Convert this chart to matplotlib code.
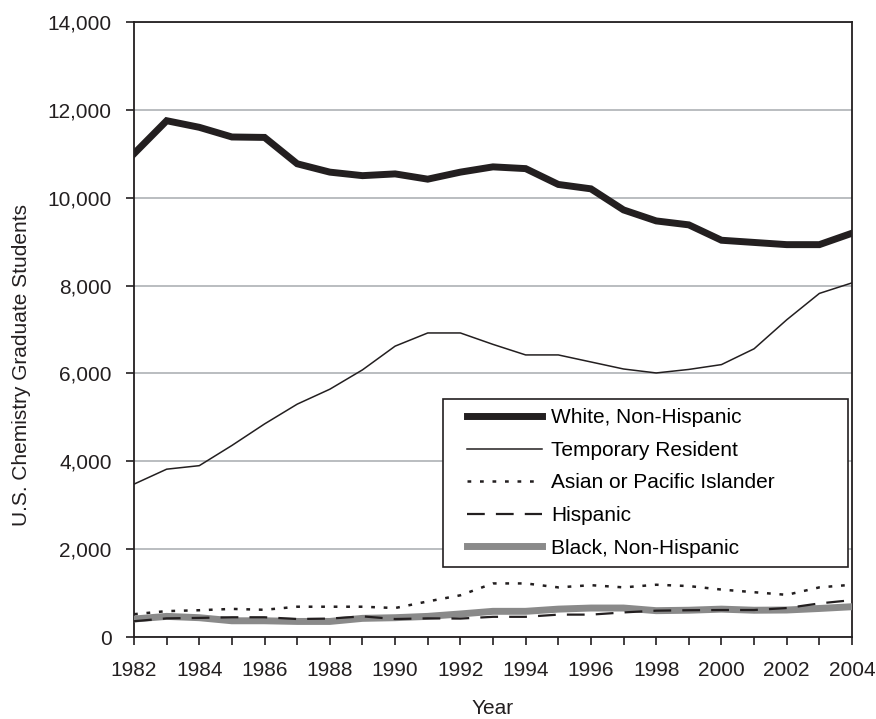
import matplotlib
matplotlib.use("Agg")
import matplotlib.pyplot as plt
from matplotlib.lines import Line2D
from matplotlib.legend_handler import HandlerLine2D
from matplotlib.ticker import FuncFormatter, MultipleLocator

plt.rcParams["font.family"] = ["Liberation Sans", "DejaVu Sans"]

years = list(range(1982, 2005))
white = [11000, 11750, 11600, 11380, 11370, 10770, 10580, 10500, 10540, 10420, 10580, 10700,
         10660, 10300, 10200, 9720, 9470, 9380, 9030, 8980, 8930, 8930, 9190]
temporary = [3480, 3820, 3900, 4360, 4850, 5300, 5640, 6080, 6620, 6920, 6920, 6660,
             6420, 6420, 6260, 6100, 6010, 6090, 6200, 6560, 7220, 7820, 8060]
asian = [520, 590, 610, 640, 620, 690, 690, 690, 660, 810, 950, 1220,
         1220, 1130, 1180, 1130, 1190, 1160, 1080, 1020, 960, 1130, 1190]
hispanic = [360, 425, 435, 450, 450, 410, 420, 470, 410, 425, 420, 460,
            460, 510, 510, 560, 600, 610, 615, 615, 660, 765, 840]
black = [410, 470, 440, 370, 370, 355, 355, 425, 440, 470, 525, 585,
         585, 635, 660, 660, 600, 610, 635, 610, 615, 650, 690]

ink = "#231f20"
fs = 15

fig = plt.figure(figsize=(8.76, 7.19), dpi=100)
ax = fig.add_axes([0.153, 0.114, 0.8196, 0.8556])

ax.plot(years, white, color=ink, lw=5, solid_joinstyle="miter", label="White, Non-Hispanic", zorder=5)
ax.plot(years, temporary, color=ink, lw=1.1, label="Temporary Resident", zorder=5)
ax.plot(years, asian, color=ink, lw=1.8, linestyle=(0, (1.5, 3.5)), label="Asian or Pacific Islander", zorder=5)
ax.plot(years, hispanic, color=ink, lw=1.6, linestyle=(0, (8, 5)), label="Hispanic", zorder=4)
ax.plot(years, black, color="#8a8a8a", lw=5, label="Black, Non-Hispanic", zorder=3)

ax.set_xlim(1982, 2004)
ax.set_ylim(0, 14000)
ax.xaxis.set_major_locator(MultipleLocator(2))
ax.xaxis.set_minor_locator(MultipleLocator(1))
ax.yaxis.set_major_locator(MultipleLocator(2000))
ax.yaxis.set_major_formatter(FuncFormatter(lambda v, p: f"{int(v):,}"))
ax.grid(axis="y", color="#b4b8bb", lw=1.3)
ax.set_axisbelow(True)

ax.tick_params(axis="both", which="both", direction="out", length=6, width=1.2,
               color=ink, labelsize=fs, labelcolor=ink)
ax.tick_params(axis="y", pad=10)
ax.tick_params(axis="x", pad=11)
for s in ax.spines.values():
    s.set_color(ink)
    s.set_linewidth(1.3)

ax.set_xlabel("Year", fontsize=fs, color=ink, labelpad=14)
ax.set_ylabel("U.S. Chemistry Graduate Students", fontsize=fs, color=ink)
ax.yaxis.set_label_coords(-0.1435, 0.442)

leg = ax.legend(loc="upper left", bbox_to_anchor=(0.430, 0.0, 0.564, 0.387), mode="expand",
                fontsize=fs, handlelength=4.3, handletextpad=0.45, labelspacing=0.65,
                handler_map={Line2D: HandlerLine2D(xpad=0.7)},
                frameon=True, fancybox=False, borderpad=0.45, borderaxespad=0)
leg.get_frame().set_edgecolor(ink)
leg.get_frame().set_linewidth(1.2)
leg.get_frame().set_alpha(1)
leg.set_zorder(10)

fig.savefig("out.png", dpi=100)
